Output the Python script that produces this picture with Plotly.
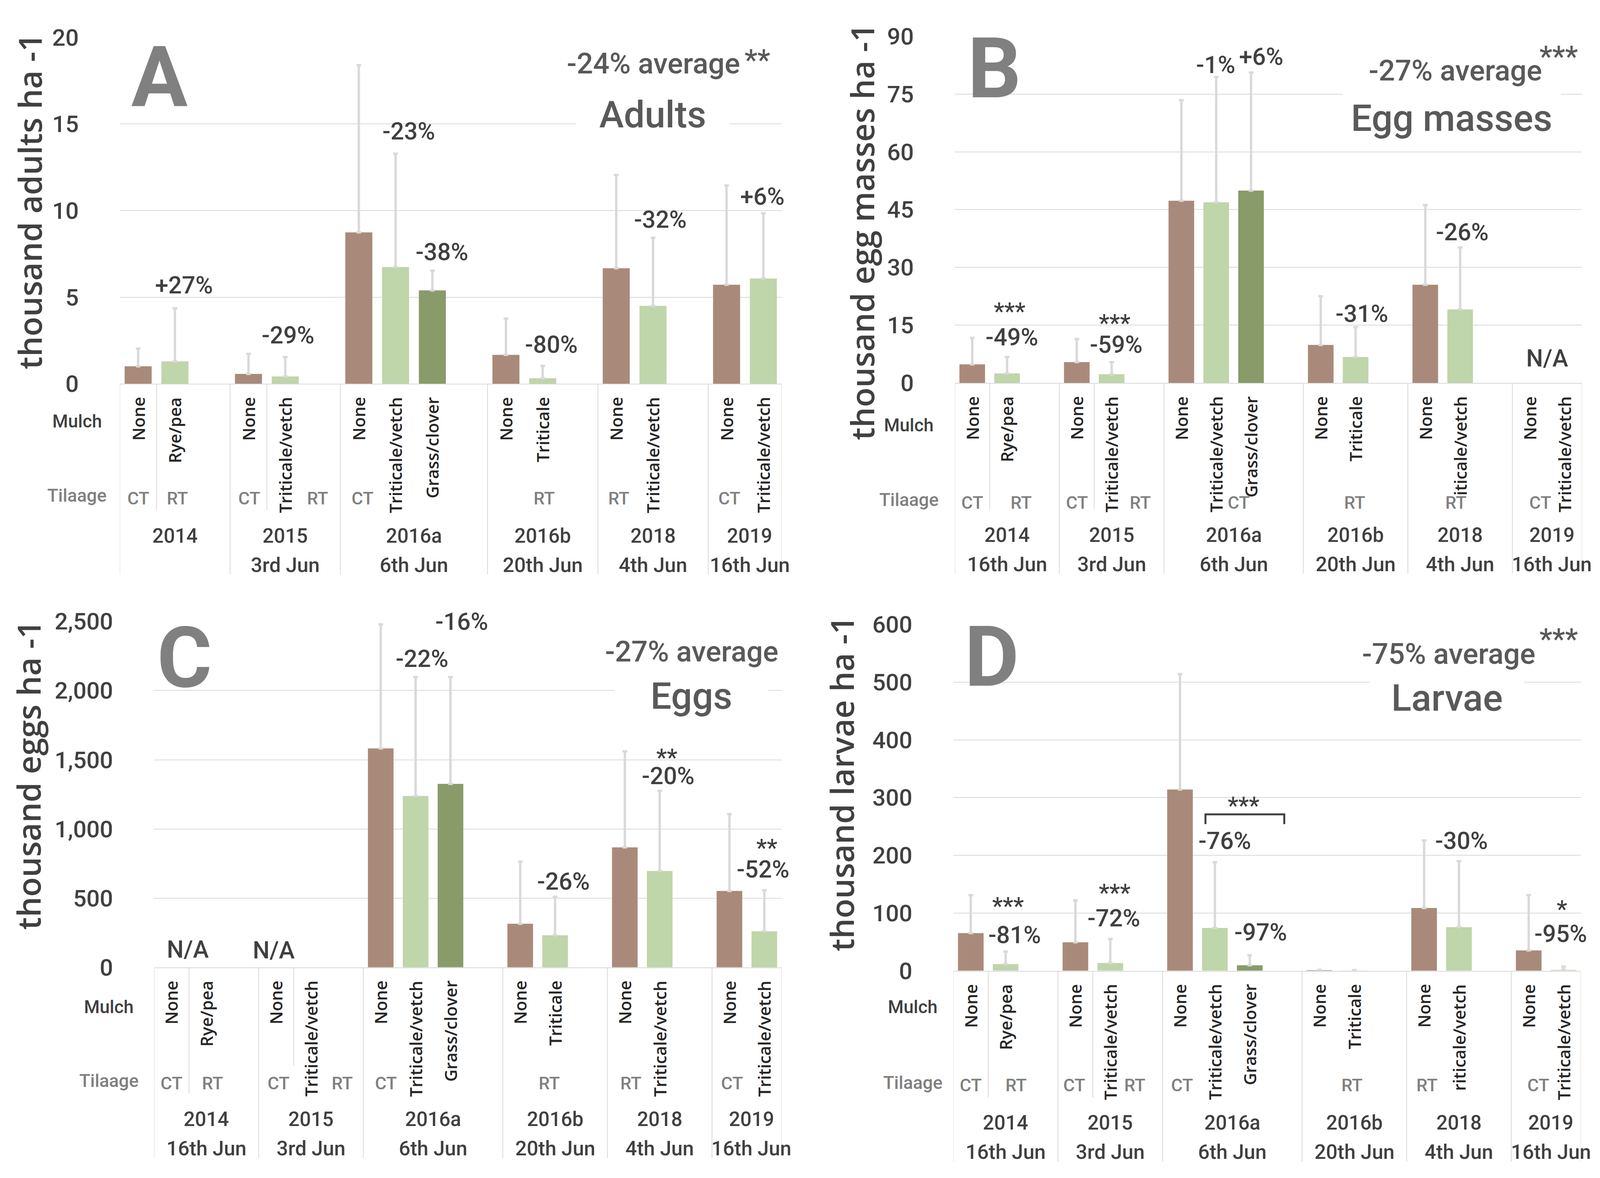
import plotly.graph_objects as go

# ---------------- DATA ----------------
slots = ["2014|None", "2014|Rye/pea", "2014|",
         "2015|None", "2015|Triticale/vetch", "2015|",
         "2016a|None", "2016a|Triticale/vetch", "2016a|Grass/clover", "2016a|",
         "2016b|None", "2016b|Triticale", "2016b|",
         "2018|None", "2018|Triticale/vetch", "2018|",
         "2019|None", "2019|Triticale/vetch"]
mulch = [s.split("|")[1] for s in slots]
years = ["2014", "2015", "2016a", "2016b", "2018", "2019"]
dates_A = ["", "3rd Jun", "6th Jun", "20th Jun", "4th Jun", "16th Jun"]
dates_BCD = ["16th Jun", "3rd Jun", "6th Jun", "20th Jun", "4th Jun", "16th Jun"]
tillage = ["CT", "RT", "CT", "RT", "CT", "RT", "RT", "CT"]

# means (thousand per ha) and upper error per slot; None = empty / N/A
adults_mean = [1.01, 1.29, None, 0.57, 0.42, None, 8.74, 6.74, 5.39, None,
               1.67, 0.32, None, 6.67, 4.50, None, 5.72, 6.08]
adults_err = [1.02, 3.06, None, 1.16, 1.12, None, 9.66, 6.54, 1.14, None,
              2.09, 0.71, None, 5.39, 3.93, None, 5.73, 3.76]
eggmass_mean = [4.84, 2.47, None, 5.41, 2.28, None, 47.3, 46.9, 49.95, None,
                9.88, 6.74, None, 25.5, 19.1, None, None, None]
eggmass_err = [6.86, 4.27, None, 5.99, 3.13, None, 26.1, 32.5, 30.65, None,
               12.62, 7.76, None, 20.7, 16.1, None, None, None]
eggs_mean = [None, None, None, None, None, None, 1582, 1238, 1326, None,
             315, 232, None, 867, 696, None, 552, 261]
eggs_err = [None, None, None, None, None, None, 897, 859, 771, None,
            448, 278, None, 694, 579, None, 555, 297]
larvae_mean = [65.2, 11.5, None, 49.3, 13.4, None, 314, 74.2, 9.6, None,
               0.6, 0.3, None, 108.7, 75.5, None, 35.2, 1.5]
larvae_err = [65.8, 21.8, None, 72.7, 41.6, None, 200, 113.8, 17.3, None,
              1.0, 0.9, None, 117.3, 114.5, None, 95.8, 5.5]

# ---------------- GEOMETRY / STYLE ----------------
REF_W, REF_H = 4382, 3015          # reference picture size
VIEW_W, VIEW_H = 4096, 3015        # visible page area
PAGE_OFF = 8                       # body margin
SX = VIEW_W / REF_W
WF, HF = 4070, 2990                # figure size


def fx(X):
    return X * SX - PAGE_OFF


def fy(Y):
    return Y - PAGE_OFF


def paper(X, Y):
    return fx(X) / WF, 1 - fy(Y) / HF


BROWN, LGREEN, DGREEN = "#a98a7a", "#bfd5aa", "#889b69"
GRID = "#d9d9d9"
color_of = {"None": BROWN, "Rye/pea": LGREEN, "Triticale/vetch": LGREEN,
            "Triticale": LGREEN, "Grass/clover": DGREEN, "": BROWN}
NARROW = "Roboto, sans-serif"
WIDE = "Open Sans, DejaVu Sans, sans-serif"
DARK = "#404040"

panels = [
    dict(key="A", xa="x", ya="y", box=(328, 2141, 62, 970), mean=adults_mean, err=adults_err,
         top=20, dtick=5, ytitle="thousand adults ha -1", ytitle_pos=(80, 492),
         letter_pos=(436, 166), avg="-24% average", avg_pos=(1790, 130),
         stars="**", stars_pos=(2074, 103), title="Adults", title_pos=(1788, 265), title_w=400,
         mulch_row=(211, 1068), till_row=(211, 1263), till_off=293,
         till_x=[0.0, 1.07, 3.02, 4.88, 6.1, 11.04, 13.07, 16.07],
         dates=dates_A, inner_len=[331, 331], mulch_2018="Triticale/vetch",
         labels=[("+27%", 1.25, 5.68), ("-29%", 4.08, 2.79), ("-23%", 7.36, 14.57),
                 ("-38%", 8.26, 7.60), ("-80%", 11.24, 2.26), ("-32%", 14.2, 9.48),
                 ("+6%", 16.97, 10.81)],
         starlabels=[]),
    dict(key="B", xa="x2", ya="y2", box=(2615, 4333, 59, 968), mean=eggmass_mean, err=eggmass_err,
         top=90, dtick=15, ytitle="thousand egg masses ha -1", ytitle_pos=(2360, 572),
         letter_pos=(2723, 144), avg="-27% average", avg_pos=(3986, 149),
         stars="***", stars_pos=(4269, 94), title="Egg masses", title_pos=(3975, 274), title_w=576,
         mulch_row=(2489, 1078), till_row=(2489, 1274), till_off=306,
         till_x=[0.0, 1.4, 3.0, 4.82, 7.65, 10.97, 13.88, 16.3],
         dates=dates_BCD, inner_len=[330, 330], mulch_2018="iticale/vetch",
         labels=[("-49%", 1.14, 11.9), ("-59%", 4.13, 10.0), ("-1%", 6.98, 82.6),
                 ("+6%", 8.29, 84.7), ("-31%", 11.18, 18.0), ("-26%", 14.06, 39.2),
                 ("N/A", 16.5, 6.4)],
         starlabels=[("***", 1.07, 19.2), ("***", 4.09, 16.1)]),
    dict(key="C", xa="x3", ya="y3", box=(422, 2141, 1593, 2500), mean=eggs_mean, err=eggs_err,
         top=2500, dtick=500, ytitle="thousand eggs ha -1", ytitle_pos=(77, 1996),
         letter_pos=(506, 1689), avg="-27% average", avg_pos=(1895, 1672),
         stars=None, stars_pos=None, title="Eggs", title_pos=(1894, 1789), title_w=398,
         mulch_row=(298, 2604), till_row=(298, 2797), till_off=297,
         till_x=[0.0, 1.18, 3.07, 4.9, 6.15, 10.83, 13.17, 16.07],
         dates=dates_BCD, inner_len=[331, 258], mulch_2018="Triticale/vetch",
         labels=[("N/A", 0.47, 128), ("N/A", 2.93, 123), ("-22%", 7.18, 2230),
                 ("-26%", 11.24, 622), ("-20%", 14.24, 1382), ("-52%", 16.96, 707)],
         starlabels=[("**", 14.2, 1534), ("**", 17.07, 880)]),
    dict(key="D", xa="x4", ya="y4", box=(2611, 4330, 1601, 2509), mean=larvae_mean, err=larvae_err,
         top=600, dtick=100, ytitle="thousand larvae ha -1", ytitle_pos=(2305, 2018),
         letter_pos=(2716, 1686), avg="-75% average", avg_pos=(3968, 1678),
         stars="***", stars_pos=(4269, 1621), title="Larvae", title_pos=(3963, 1794), title_w=399,
         mulch_row=(2500, 2604), till_row=(2500, 2802), till_off=293,
         till_x=[0.0, 1.3, 2.97, 4.7, 6.06, 10.93, 13.08, 16.27],
         dates=dates_BCD, inner_len=[332, 332], mulch_2018="riticale/vetch",
         labels=[("-81%", 1.26, 62), ("-72%", 4.1, 91), ("-76%", 7.28, 225),
                 ("-97%", 8.31, 67), ("-30%", 14.07, 225), ("-95%", 16.92, 64)],
         starlabels=[("***", 1.07, 116), ("***", 4.13, 139), ("***", 7.82, 290), ("*", 16.95, 111)]),
]

fig = go.Figure()
annotations = []
shapes = []
layout_axes = {}


def pfont(size, color=DARK, family=NARROW, weight="normal"):
    return dict(family=family, size=size, color=color, weight=weight)


def paper_ann(X, Y, text, font, **kw):
    px_, py_ = paper(X, Y)
    d = dict(x=px_, y=py_, xref="paper", yref="paper", text=text, showarrow=False,
             xanchor="center", yanchor="middle", font=font)
    d.update(kw)
    return d


# group boundaries derived from slot years
group_of = [s.split("|")[0] for s in slots]
bounds = [-0.5]
centers = []
start = 0
for i in range(1, len(slots) + 1):
    if i == len(slots) or group_of[i] != group_of[i - 1]:
        bounds.append(i - 0.5)
        centers.append((start + i - 1) / 2)
        start = i

for p in panels:
    l, r, t, b = p["box"]
    dom_h = b - t
    xa, ya = p["xa"], p["ya"]
    xname = "xaxis" + xa[1:]
    yname = "yaxis" + ya[1:]
    errs = p["err"]
    fig.add_trace(go.Bar(
        x=slots, y=p["mean"], xaxis=xa, yaxis=ya, showlegend=False,
        marker=dict(color=[color_of[m] for m in mulch], line=dict(width=0)),
        error_y=dict(type="data", symmetric=False, array=errs,
                     arrayminus=[0 if e is not None else None for e in errs],
                     color=GRID, thickness=6, width=6),
    ))
    layout_axes[xname] = dict(domain=[fx(l) / WF, fx(r) / WF], anchor=ya, type="category",
                              categoryorder="array", categoryarray=slots,
                              range=[-0.5, len(slots) - 0.5], showticklabels=False,
                              showgrid=False, zeroline=False, showline=True,
                              linecolor=GRID, linewidth=2, ticks="")
    layout_axes[yname] = dict(domain=[1 - fy(b) / HF, 1 - fy(t) / HF], anchor=xa,
                              range=[0, p["top"]], tick0=0, dtick=p["dtick"], showgrid=True,
                              gridcolor=GRID, gridwidth=2, zeroline=False, showline=False,
                              ticks="outside", ticklen=92, tickcolor="rgba(0,0,0,0)",
                              tickformat=",", tickfont=pfont(60, DARK, NARROW, 500))

    # mulch labels (rotated)
    for j, lab in enumerate(mulch):
        if not lab:
            continue
        if group_of[j] == "2018" and lab == "Triticale/vetch":
            lab = p["mulch_2018"]
        annotations.append(dict(x=j, xref=xa, y=0, yref=ya + " domain", yshift=-32,
                                text=lab, textangle=-90, xanchor="center", yanchor="top",
                                showarrow=False, font=pfont(43, "#262626", WIDE, 600)))
    # tillage labels
    for lab, xx in zip(tillage, p["till_x"]):
        annotations.append(dict(x=xx, xref=xa, y=0, yref=ya + " domain", yshift=-p["till_off"],
                                text=lab, showarrow=False, xanchor="center", yanchor="middle",
                                font=pfont(45, "#808080", NARROW, 500)))
    # year / date labels
    for k, (yr, dt) in enumerate(zip(years, p["dates"])):
        shift = 12 if k == len(years) - 1 else 0
        annotations.append(dict(x=centers[k], xref=xa, y=0, yref=ya + " domain", yshift=-389,
                                xshift=shift, text=yr, showarrow=False, xanchor="center",
                                yanchor="middle", font=pfont(51, DARK, NARROW, 500)))
        if dt:
            annotations.append(dict(x=centers[k], xref=xa, y=0, yref=ya + " domain", yshift=-464,
                                    xshift=shift, text=dt, showarrow=False, xanchor="center",
                                    yanchor="middle", font=pfont(52, DARK, NARROW, 500)))
    # row labels
    annotations.append(paper_ann(*p["mulch_row"], "Mulch", pfont(46, DARK, NARROW, 500)))
    annotations.append(paper_ann(*p["till_row"], "Tilaage", pfont(46, "#808080", NARROW, 500)))
    # separators below axis
    for bx in bounds:
        shapes.append(dict(type="line", xref=xa, yref=ya + " domain", x0=bx, x1=bx,
                           y0=0, y1=-500 / dom_h, line=dict(color=GRID, width=2)))
    for bx, ln in zip([0.5, 3.5], p["inner_len"]):
        shapes.append(dict(type="line", xref=xa, yref=ya + " domain", x0=bx, x1=bx,
                           y0=0, y1=-ln / dom_h, line=dict(color=GRID, width=2)))
    # y title
    annotations.append(paper_ann(*p["ytitle_pos"], p["ytitle"], pfont(82, DARK, WIDE, 600),
                                 textangle=-90))
    # panel letter
    annotations.append(paper_ann(*p["letter_pos"], p["key"], pfont(215, "#808080", NARROW, "bold")))
    # average + stars
    annotations.append(paper_ann(*p["avg_pos"], p["avg"], pfont(74, "#595959", NARROW, 500)))
    if p["stars"]:
        annotations.append(paper_ann(*p["stars_pos"], p["stars"], pfont(74, "#595959", NARROW, 500),
                                     yshift=-18))
    # title with white box over gridline
    annotations.append(paper_ann(*p["title_pos"], p["title"], pfont(95, "#595959", NARROW, 500),
                                 bgcolor="white", borderpad=10, width=p["title_w"] * SX))
    # percent labels
    for txt, xx, yv in p["labels"]:
        annotations.append(dict(x=xx, y=yv, xref=xa, yref=ya, text=txt, showarrow=False,
                                xanchor="center", yanchor="middle",
                                font=pfont(61, DARK, NARROW, 500)))
    for txt, xx, yv in p["starlabels"]:
        annotations.append(dict(x=xx, y=yv, xref=xa, yref=ya, text=txt, showarrow=False,
                                xanchor="center", yanchor="middle", yshift=-6,
                                font=pfont(61, DARK, NARROW, 500)))

# "-16%" label over top gridline in panel C (white background)
annotations.append(dict(x=8.32, y=2497, xref="x3", yref="y3", text="-16%", showarrow=False,
                        xanchor="center", yanchor="middle", bgcolor="white", borderpad=8,
                        width=165 * SX, font=pfont(61, DARK, NARROW, 500)))

# significance bracket in panel D
shapes.append(dict(type="path", xref="x4", yref="y4",
                   path="M 6.73,254 L 6.73,271 L 8.99,271 L 8.99,254",
                   line=dict(color=DARK, width=5)))

fig.update_layout(
    width=WF, height=HF, margin=dict(l=0, r=0, t=0, b=0),
    paper_bgcolor="white", plot_bgcolor="white",
    bargap=0.265, barmode="group",
    annotations=annotations, shapes=shapes,
    **layout_axes,
)

fig.write_html("out.html")
